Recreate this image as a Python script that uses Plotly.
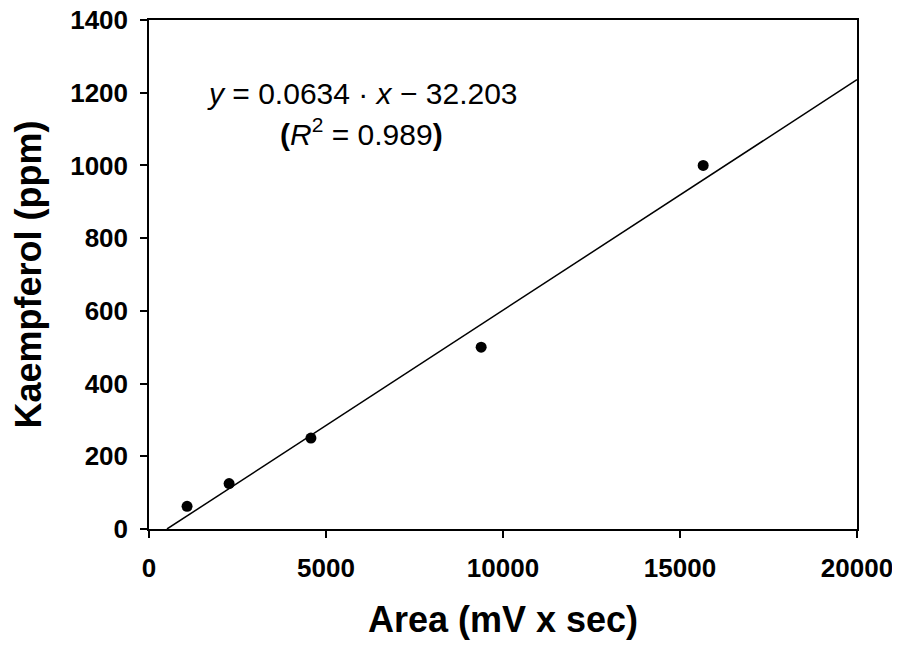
import plotly.graph_objects as go

# Data
area = [1075, 2263, 4574, 9383, 15655]
kaempferol = [62.5, 125, 250, 500, 1000]
slope = 0.0634
intercept = -32.203
r2 = 0.989
x_ticks = [0, 5000, 10000, 15000, 20000]
y_ticks = [0, 200, 400, 600, 800, 1000, 1200, 1400]

x_start = -intercept / slope
fit_x = [x_start, 20000]
fit_y = [slope * v + intercept for v in fit_x]

fig = go.Figure()
fig.add_trace(go.Scatter(x=fit_x, y=fit_y, mode="lines",
                         line=dict(color="black", width=1.5), showlegend=False))
fig.add_trace(go.Scatter(x=area, y=kaempferol, mode="markers",
                         marker=dict(color="black", size=11), showlegend=False))

font_family = "Liberation Sans, Arial, sans-serif"
axis_common = dict(showgrid=False, zeroline=False, showline=True, linecolor="black",
                   linewidth=1.5, mirror=True, ticks="outside", ticklen=7,
                   tickwidth=1.5, tickcolor="black", automargin=False,
                   ticklabeloverflow="allow",
                   tickfont=dict(family=font_family, size=26, color="black", weight="bold"))

# page body has an 8px margin, so the figure is 8px smaller and offset
fig.update_layout(
    width=892, height=638,
    margin=dict(l=141, r=43, t=12, b=117),
    plot_bgcolor="white", paper_bgcolor="white",
    font=dict(family=font_family, color="black"),
    xaxis=dict(range=[0, 20000], tickvals=x_ticks, ticktext=[str(v) for v in x_ticks],
               ticklabelstandoff=8,
               title=dict(text="<b>Area (mV x sec)</b>", font=dict(size=36), standoff=25),
               **axis_common),
    yaxis=dict(range=[0, 1400], tickvals=y_ticks, ticktext=[str(v) for v in y_ticks],
               ticklabelstandoff=7,
               title=dict(text="<b>Kaempferol (ppm)</b>", font=dict(size=36), standoff=18),
               **axis_common),
    annotations=[
        dict(xref="paper", yref="paper", x=0.302, y=0.855,
             text=f"<i>y</i> = {slope} · <i>x</i> − {abs(intercept)}",
             showarrow=False, font=dict(size=30, family=font_family, color="black"),
             xanchor="center", yanchor="middle"),
        dict(xref="paper", yref="paper", x=0.3, y=0.78,
             text=f"<b>(</b><i>R</i><sup>2</sup> = {r2}<b>)</b>",
             showarrow=False, font=dict(size=30, family=font_family, color="black"),
             xanchor="center", yanchor="middle"),
    ],
)

fig.write_html("out.html")
